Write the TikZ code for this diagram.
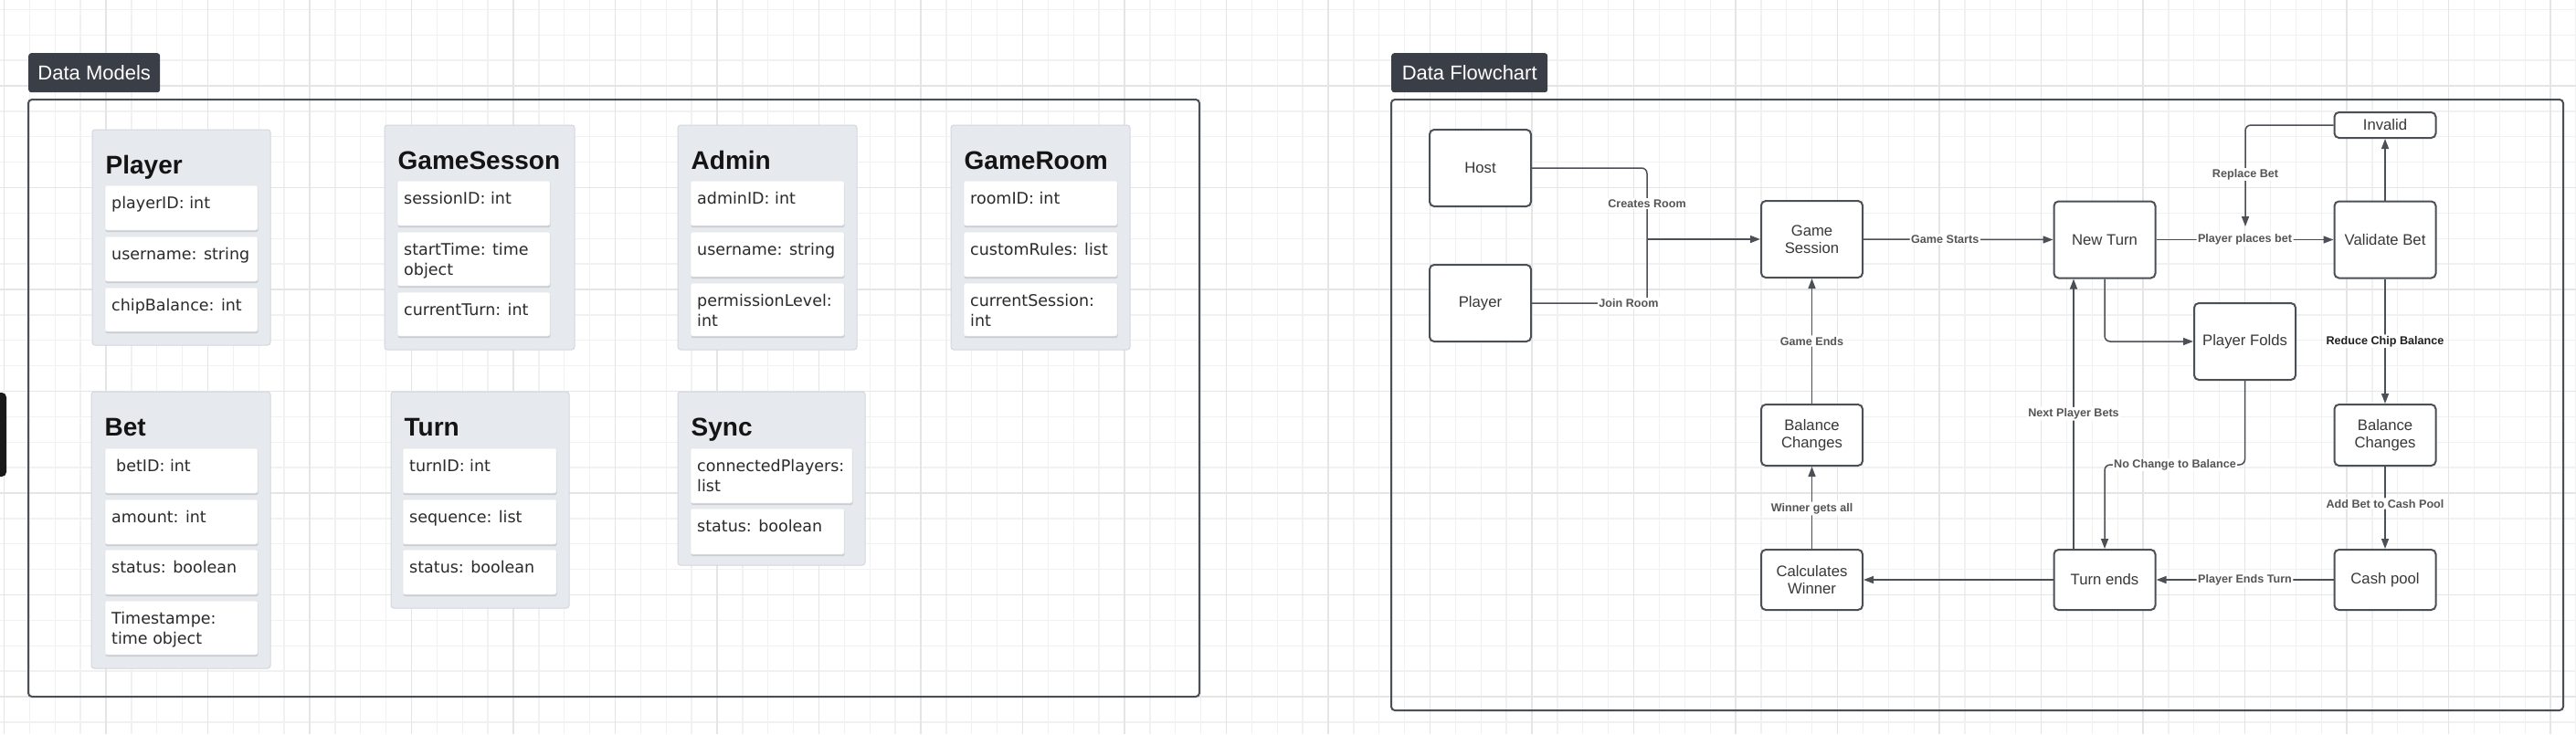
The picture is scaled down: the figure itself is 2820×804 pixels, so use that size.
\documentclass[tikz,border=0pt]{standalone}
\usepackage{fontspec}
\setmainfont{Liberation Sans}
\newfontfamily\fieldfont{DejaVu Sans}
\usetikzlibrary{arrows.meta}
\definecolor{gridminor}{HTML}{F1F1F1}
\definecolor{gridmajor}{HTML}{E5E5E5}
\definecolor{framecol}{HTML}{4A4E55}
\definecolor{tagbg}{HTML}{3A3F47}
\definecolor{clsfill}{HTML}{E6E9ED}
\definecolor{clsdraw}{HTML}{D3D7DD}
\definecolor{fshadow}{HTML}{C9CCD1}
\definecolor{nodecol}{HTML}{4B4F56}
\definecolor{fctext}{HTML}{383838}
\definecolor{lbltext}{HTML}{555555}
\definecolor{fldtext}{HTML}{2A2A2A}
\newcommand\mkbox[6]{%
  \node[#1, anchor=north west, minimum width={#5-#3}, minimum height={#6-#4}] (#2) at (#3,#4) {};}
\newcommand\fld[6]{%
  \fill[fshadow, rounded corners=2] (#2+0.5,#3+2) rectangle (#4+0.5,#5+2);
  \node[fieldbox, anchor=north west, minimum width={#4-#2}, minimum height={#5-#3}] (#1) at (#2,#3) {};
  \node[fieldtxt, anchor=north west] (#1-t) at ([xshift=7pt,yshift=-12pt]#1.north west) {\rule{0pt}{13pt}#6};}
\newcommand\ttl[3]{%
  \node[titletxt, anchor=base west] (#1-title) at ([xshift=14.5pt,yshift=-48pt]#1.north west) {#2};}
\begin{document}
\begin{tikzpicture}[x=1pt,y=-1pt,
  clsbox/.style={draw=clsdraw, fill=clsfill, line width=1pt, rounded corners=3pt, inner sep=0pt, outer sep=0pt},
  fieldbox/.style={fill=white, draw=white!90!black, line width=0.5pt, rounded corners=2pt, inner sep=0pt, outer sep=0pt},
  fieldtxt/.style={inner sep=0pt, align=left, text=fldtext, font=\fieldfont\fontsize{17.5}{22}\selectfont},
  titletxt/.style={inner sep=0pt, text=black!92, font=\bfseries\fontsize{28}{32}\selectfont},
  tag/.style={fill=tagbg, rounded corners=3pt, text=white, inner sep=0pt, font=\fontsize{22}{26}\selectfont},
  framebox/.style={draw=framecol, line width=2pt, rounded corners=4pt},
  fcnode/.style={draw=nodecol, fill=white, line width=2pt, rounded corners=5pt, minimum width=111pt, minimum height=84pt, inner sep=0pt, outer sep=1pt, align=center, text=fctext, font=\fontsize{16.7}{19.5}\selectfont},
  conn/.style={draw=nodecol, line width=1.5pt, rounded corners=6pt},
  arr/.style={-{Triangle[length=11pt,width=8pt]}},
  lbl/.style={fill=white, inner sep=1.5pt, text=lbltext, font=\bfseries\fontsize{12.6}{15}\selectfont},
  lbldark/.style={lbl, text=black!88}
]
\useasboundingbox (0,0) rectangle (2820,804);
\fill[white] (0,0) rectangle (2820,804);
% grid
\foreach \i in {0,...,101} {
  \pgfmathsetmacro\gx{4.5+27.875*\i}
  \draw[gridminor, line width=1.3pt] (\gx,0) -- (\gx,804);
}
\foreach \k in {0,...,28} {
  \pgfmathsetmacro\gy{10.375+27.875*\k}
  \draw[gridminor, line width=1.3pt] (0,\gy) -- (2820,\gy);
}
\foreach \j in {0,...,25} {
  \pgfmathsetmacro\gx{4.5+111.5*\j}
  \draw[gridmajor, line width=1.3pt] (\gx,0) -- (\gx,804);
}
\foreach \m in {1,...,7} {
  \pgfmathsetmacro\gy{-17.5+111.5*\m}
  \draw[gridmajor, line width=1.3pt] (0,\gy) -- (2820,\gy);
}
% stray dark shape at left edge
\fill[black!90, rounded corners=5pt] (-10,430) rectangle (7,522);
% frames and tags
\draw[framebox] (31,109) rectangle (1313,763);
\draw[framebox] (1523,109) rectangle (2806,778);
\node[tag, anchor=north west, minimum width=144pt, minimum height=43pt] (dmtag) at (31,58) {Data Models};
\node[tag, anchor=north west, minimum width=171pt, minimum height=43pt] (fctag) at (1523,58) {Data Flowchart};
% ---------- data models ----------
\mkbox{clsbox}{player}{101}{142}{296}{378}
\ttl{player}{Player}{}
\fld{p1}{115}{203}{282}{252}{playerID: int}
\fld{p2}{115}{259}{282}{308}{username: string}
\fld{p3}{115}{315}{282}{363}{chipBalance: int}
\mkbox{clsbox}{gsess}{421}{137}{629}{383}
\ttl{gsess}{GameSesson}{}
\fld{g1}{435}{198}{602}{247}{sessionID: int}
\fld{g2}{435}{254}{602}{313}{startTime: time\\object}
\fld{g3}{435}{320}{602}{368}{currentTurn: int}
\mkbox{clsbox}{admin}{742}{137}{938}{383}
\ttl{admin}{Admin}{}
\fld{a1}{756}{198}{924}{247}{adminID: int}
\fld{a2}{756}{254}{924}{303}{username: string}
\fld{a3}{756}{310}{924}{368}{permissionLevel:\\int}
\mkbox{clsbox}{groom}{1041}{137}{1237}{383}
\ttl{groom}{GameRoom}{}
\fld{r1}{1055}{198}{1223}{247}{roomID: int}
\fld{r2}{1055}{254}{1223}{303}{customRules: list}
\fld{r3}{1055}{310}{1223}{368}{currentSession:\\int}
\mkbox{clsbox}{bet}{100}{429}{296}{732}
\ttl{bet}{Bet}{}
\fld{b1}{115}{491}{282}{540}{\hspace{5pt}betID: int}
\fld{b2}{115}{547}{282}{596}{amount: int}
\fld{b3}{115}{602}{282}{651}{status: boolean}
\fld{b4}{115}{658}{282}{717}{Timestampe:\\time object}
\mkbox{clsbox}{turn}{428}{429}{623}{666}
\ttl{turn}{Turn}{}
\fld{t1}{441}{491}{609}{540}{turnID: int}
\fld{t2}{441}{547}{609}{596}{sequence: list}
\fld{t3}{441}{602}{609}{651}{status: boolean}
\mkbox{clsbox}{sync}{742}{429}{947}{619}
\ttl{sync}{Sync}{}
\fld{s1}{756}{491}{933}{551}{connectedPlayers:\\list}
\fld{s2}{756}{557}{924}{607}{status: boolean}
% ---------- flowchart ----------
\node[fcnode] (host) at (1620.5,184) {Host};
\node[fcnode] (fplayer) at (1620.5,332) {Player};
\node[fcnode] (gs) at (1983.5,262) {Game\\Session};
\node[fcnode] (nt) at (2304,262.5) {New Turn};
\node[fcnode] (vb) at (2611,262.5) {Validate Bet};
\node[fcnode, minimum height=28pt] (inv) at (2611,137) {Invalid};
\node[fcnode] (pf) at (2457.5,374) {Player Folds};
\node[fcnode, minimum height=67pt] (bcr) at (2611,476.5) {Balance\\Changes};
\node[fcnode, minimum height=66pt] (cp) at (2611,635) {Cash pool};
\node[fcnode, minimum height=66pt] (te) at (2304,635) {Turn ends};
\node[fcnode, minimum height=66pt] (cw) at (1983.5,635) {Calculates\\Winner};
\node[fcnode, minimum height=67pt] (bcl) at (1983.5,476.5) {Balance\\Changes};
% connectors
\coordinate (jct) at (1803,262);
\draw[conn] (host.east) -| (jct);
\draw[conn] (fplayer.east) -| (jct);
\draw[conn,arr] (jct) -- (gs.west);
\node[lbl] (lcr) at (1803,223) {Creates Room};
\node[lbl] (ljr) at (1783,332) {Join Room};
\draw[conn,arr] (gs.east) -- node[lbl,pos=0.43] (lgs) {Game Starts} (nt.west);
\draw[conn,arr] (nt.east) -- node[lbl] (lpb) {Player places bet} (vb.west);
\coordinate (rb) at (2458,248);
\draw[conn,arr] (inv.west) -| (rb);
\node[lbl] (lrb) at (2458,191) {Replace Bet};
\draw[conn,arr] (vb.north) -- (inv.south);
\draw[conn,arr] (nt.south) |- (pf.west);
\draw[conn,arr] (vb.south) -- node[lbldark] (lrc) {Reduce Chip Balance} (bcr.north);
\draw[conn,arr] (bcr.south) -- node[lbl,pos=0.45] (lab) {Add Bet to Cash Pool} (cp.north);
\draw[conn,arr] (cp.west) -- node[lbl] (lpe) {Player Ends Turn} (te.east);
\coordinate (ncb) at (2381,509);
\draw[conn,arr] (pf.south) |- (ncb) -| (te.north);
\node[lbl] (lnc) at (ncb) {No Change to Balance};
\draw[conn,arr] ([xshift=-34pt]te.north) -- node[lbl] (lnp) {Next Player Bets} ([xshift=-34pt]nt.south);
\draw[conn,arr] (te.west) -- (cw.east);
\draw[conn,arr] (cw.north) -- node[lbl,pos=0.49] (lwg) {Winner gets all} (bcl.south);
\draw[conn,arr] (bcl.north) -- node[lbl] (lge) {Game Ends} (gs.south);
\end{tikzpicture}
\end{document}
